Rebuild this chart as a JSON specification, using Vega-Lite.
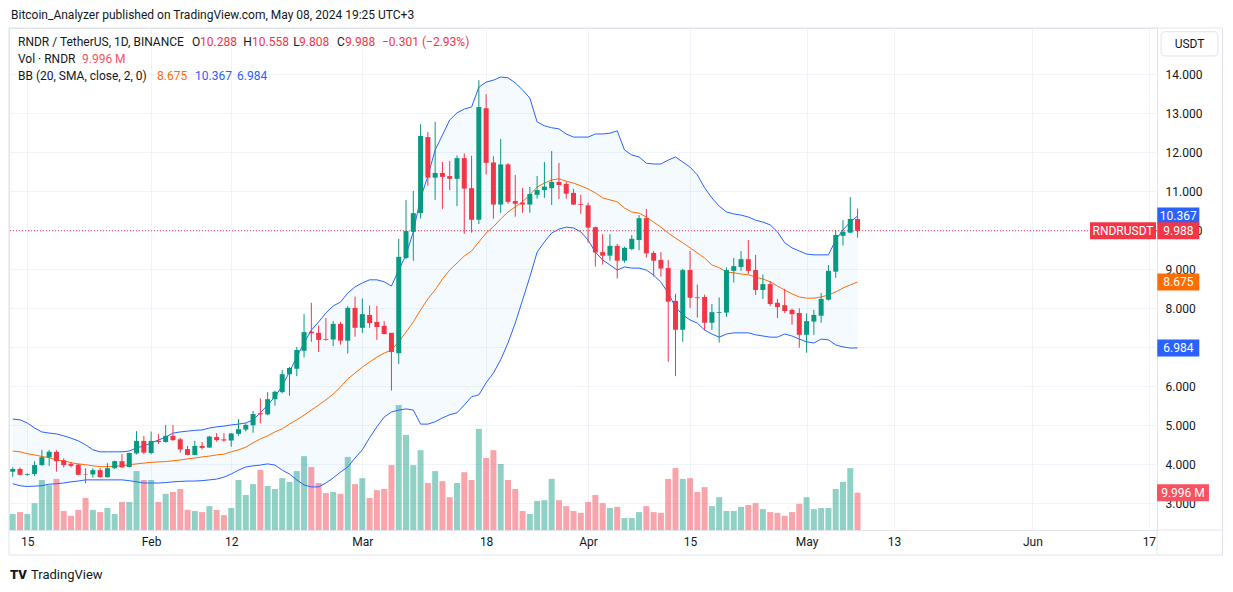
{
  "$schema": "https://vega.github.io/schema/vega-lite/v6.json",
  "autosize": "none",
  "width": 1148,
  "height": 502,
  "padding": {"left": 9, "top": 28, "right": 76, "bottom": 62},
  "background": "#ffffff",
  "config": {
    "view": {"stroke": "#e0e3eb", "strokeWidth": 1},
    "axis": {"labelFont": "Roboto", "labelFontSize": 12, "labelColor": "#131722", "gridColor": "#f0f3fa", "gridWidth": 1, "domain": false, "ticks": false},
    "text": {"font": "Roboto"}
  },
  "datasets": {
    "ohlc": [
      {"date":"2024-01-13","open":3.81,"high":3.92,"low":3.68,"close":3.88,"vol":4.3,"upper":5.16,"basis":4.34,"lower":3.50},
      {"date":"2024-01-14","open":3.88,"high":3.92,"low":3.72,"close":3.73,"vol":4.8,"upper":5.14,"basis":4.32,"lower":3.45},
      {"date":"2024-01-15","open":3.73,"high":3.77,"low":3.71,"close":3.75,"vol":4.3,"upper":5.06,"basis":4.27,"lower":3.43},
      {"date":"2024-01-16","open":3.75,"high":4.08,"low":3.70,"close":3.98,"vol":7.2,"upper":4.93,"basis":4.24,"lower":3.44},
      {"date":"2024-01-17","open":3.98,"high":4.37,"low":3.96,"close":4.18,"vol":13.4,"upper":4.83,"basis":4.20,"lower":3.45},
      {"date":"2024-01-18","open":4.18,"high":4.37,"low":3.96,"close":4.32,"vol":12.0,"upper":4.80,"basis":4.17,"lower":3.49},
      {"date":"2024-01-19","open":4.32,"high":4.36,"low":3.81,"close":4.08,"vol":13.7,"upper":4.78,"basis":4.11,"lower":3.50},
      {"date":"2024-01-20","open":4.10,"high":4.15,"low":3.92,"close":3.98,"vol":5.1,"upper":4.73,"basis":4.09,"lower":3.52},
      {"date":"2024-01-21","open":4.01,"high":4.06,"low":3.92,"close":3.96,"vol":3.8,"upper":4.67,"basis":4.04,"lower":3.55},
      {"date":"2024-01-22","open":3.99,"high":4.01,"low":3.72,"close":3.73,"vol":5.4,"upper":4.60,"basis":4.01,"lower":3.57},
      {"date":"2024-01-23","open":3.75,"high":3.90,"low":3.51,"close":3.74,"vol":8.6,"upper":4.50,"basis":3.99,"lower":3.60},
      {"date":"2024-01-24","open":3.74,"high":3.90,"low":3.66,"close":3.85,"vol":5.4,"upper":4.37,"basis":3.96,"lower":3.60},
      {"date":"2024-01-25","open":3.85,"high":3.90,"low":3.66,"close":3.67,"vol":4.8,"upper":4.32,"basis":3.94,"lower":3.60},
      {"date":"2024-01-26","open":3.67,"high":4.03,"low":3.66,"close":3.90,"vol":5.9,"upper":4.32,"basis":3.94,"lower":3.60},
      {"date":"2024-01-27","open":3.90,"high":4.09,"low":3.88,"close":4.08,"vol":4.3,"upper":4.32,"basis":3.95,"lower":3.60},
      {"date":"2024-01-28","open":4.08,"high":4.26,"low":3.91,"close":3.92,"vol":7.5,"upper":4.32,"basis":3.96,"lower":3.60},
      {"date":"2024-01-29","open":3.93,"high":4.30,"low":3.92,"close":4.29,"vol":7.5,"upper":4.34,"basis":3.99,"lower":3.58},
      {"date":"2024-01-30","open":4.28,"high":4.85,"low":4.25,"close":4.60,"vol":15.8,"upper":4.42,"basis":4.01,"lower":3.55},
      {"date":"2024-01-31","open":4.60,"high":4.73,"low":4.26,"close":4.30,"vol":13.4,"upper":4.47,"basis":4.03,"lower":3.52},
      {"date":"2024-02-01","open":4.29,"high":4.84,"low":4.26,"close":4.60,"vol":13.4,"upper":4.55,"basis":4.05,"lower":3.52},
      {"date":"2024-02-02","open":4.60,"high":4.78,"low":4.52,"close":4.57,"vol":7.5,"upper":4.62,"basis":4.06,"lower":3.52},
      {"date":"2024-02-03","open":4.57,"high":5.01,"low":4.56,"close":4.73,"vol":9.7,"upper":4.70,"basis":4.07,"lower":3.53},
      {"date":"2024-02-04","open":4.73,"high":5.01,"low":4.60,"close":4.62,"vol":10.2,"upper":4.80,"basis":4.09,"lower":3.55},
      {"date":"2024-02-05","open":4.64,"high":4.68,"low":4.30,"close":4.38,"vol":11.0,"upper":4.83,"basis":4.11,"lower":3.56},
      {"date":"2024-02-06","open":4.39,"high":4.47,"low":4.23,"close":4.24,"vol":5.4,"upper":4.85,"basis":4.14,"lower":3.57},
      {"date":"2024-02-07","open":4.24,"high":4.60,"low":4.23,"close":4.47,"vol":5.1,"upper":4.87,"basis":4.16,"lower":3.57},
      {"date":"2024-02-08","open":4.47,"high":4.57,"low":4.38,"close":4.42,"vol":4.8,"upper":4.88,"basis":4.19,"lower":3.58},
      {"date":"2024-02-09","open":4.43,"high":4.73,"low":4.42,"close":4.71,"vol":6.4,"upper":4.93,"basis":4.21,"lower":3.60},
      {"date":"2024-02-10","open":4.70,"high":4.80,"low":4.58,"close":4.62,"vol":5.4,"upper":4.96,"basis":4.24,"lower":3.62},
      {"date":"2024-02-11","open":4.64,"high":4.80,"low":4.58,"close":4.61,"vol":4.0,"upper":4.98,"basis":4.26,"lower":3.67},
      {"date":"2024-02-12","open":4.61,"high":4.80,"low":4.45,"close":4.79,"vol":5.9,"upper":5.01,"basis":4.32,"lower":3.75},
      {"date":"2024-02-13","open":4.78,"high":5.16,"low":4.73,"close":4.90,"vol":13.4,"upper":5.03,"basis":4.37,"lower":3.85},
      {"date":"2024-02-14","open":4.89,"high":5.05,"low":4.84,"close":5.01,"vol":9.4,"upper":5.06,"basis":4.44,"lower":3.93},
      {"date":"2024-02-15","open":5.00,"high":5.37,"low":4.81,"close":5.29,"vol":12.3,"upper":5.14,"basis":4.55,"lower":3.96},
      {"date":"2024-02-16","open":5.31,"high":5.69,"low":5.05,"close":5.28,"vol":16.1,"upper":5.32,"basis":4.65,"lower":3.98},
      {"date":"2024-02-17","open":5.28,"high":5.85,"low":5.26,"close":5.67,"vol":11.8,"upper":5.52,"basis":4.73,"lower":4.01},
      {"date":"2024-02-18","open":5.67,"high":5.89,"low":5.50,"close":5.86,"vol":11.0,"upper":5.73,"basis":4.83,"lower":3.98},
      {"date":"2024-02-19","open":5.85,"high":6.42,"low":5.82,"close":6.31,"vol":13.9,"upper":6.01,"basis":4.91,"lower":3.85},
      {"date":"2024-02-20","open":6.31,"high":6.50,"low":5.76,"close":6.47,"vol":12.9,"upper":6.37,"basis":5.03,"lower":3.75},
      {"date":"2024-02-21","open":6.45,"high":7.01,"low":6.26,"close":6.93,"vol":15.8,"upper":6.75,"basis":5.14,"lower":3.60},
      {"date":"2024-02-22","open":6.91,"high":7.85,"low":6.74,"close":7.39,"vol":19.8,"upper":7.11,"basis":5.26,"lower":3.47},
      {"date":"2024-02-23","open":7.40,"high":8.14,"low":7.14,"close":7.36,"vol":16.9,"upper":7.44,"basis":5.39,"lower":3.42},
      {"date":"2024-02-24","open":7.37,"high":7.56,"low":6.88,"close":7.19,"vol":12.6,"upper":7.65,"basis":5.52,"lower":3.42},
      {"date":"2024-02-25","open":7.21,"high":7.75,"low":7.17,"close":7.19,"vol":9.9,"upper":7.88,"basis":5.65,"lower":3.52},
      {"date":"2024-02-26","open":7.20,"high":7.67,"low":7.03,"close":7.60,"vol":10.2,"upper":8.06,"basis":5.80,"lower":3.65},
      {"date":"2024-02-27","open":7.60,"high":7.65,"low":7.07,"close":7.17,"vol":9.7,"upper":8.16,"basis":5.98,"lower":3.80},
      {"date":"2024-02-28","open":7.17,"high":8.06,"low":6.84,"close":8.01,"vol":19.6,"upper":8.39,"basis":6.19,"lower":3.93},
      {"date":"2024-02-29","open":8.01,"high":8.30,"low":7.27,"close":7.50,"vol":12.3,"upper":8.55,"basis":6.34,"lower":4.16},
      {"date":"2024-03-01","open":7.50,"high":8.25,"low":7.37,"close":7.85,"vol":13.9,"upper":8.65,"basis":6.49,"lower":4.37},
      {"date":"2024-03-02","open":7.83,"high":8.07,"low":7.50,"close":7.62,"vol":8.6,"upper":8.73,"basis":6.62,"lower":4.68},
      {"date":"2024-03-03","open":7.65,"high":8.06,"low":7.19,"close":7.52,"vol":10.7,"upper":8.73,"basis":6.75,"lower":4.96},
      {"date":"2024-03-04","open":7.55,"high":7.67,"low":7.33,"close":7.34,"vol":11.0,"upper":8.68,"basis":6.85,"lower":5.21},
      {"date":"2024-03-05","open":7.37,"high":7.37,"low":5.89,"close":6.88,"vol":17.4,"upper":8.57,"basis":6.93,"lower":5.34},
      {"date":"2024-03-06","open":6.85,"high":9.78,"low":6.57,"close":9.32,"vol":33.5,"upper":8.98,"basis":7.14,"lower":5.39},
      {"date":"2024-03-07","open":9.29,"high":10.78,"low":9.26,"close":9.98,"vol":25.5,"upper":9.37,"basis":7.39,"lower":5.42},
      {"date":"2024-03-08","open":9.96,"high":11.01,"low":9.22,"close":10.44,"vol":17.4,"upper":9.96,"basis":7.65,"lower":5.39},
      {"date":"2024-03-09","open":10.44,"high":12.72,"low":10.30,"close":12.42,"vol":21.4,"upper":10.83,"basis":7.96,"lower":5.03},
      {"date":"2024-03-10","open":12.39,"high":12.52,"low":11.14,"close":11.35,"vol":12.6,"upper":11.39,"basis":8.24,"lower":5.03},
      {"date":"2024-03-11","open":11.35,"high":12.78,"low":10.78,"close":11.47,"vol":15.8,"upper":12.06,"basis":8.47,"lower":5.09},
      {"date":"2024-03-12","open":11.47,"high":11.75,"low":10.55,"close":11.37,"vol":13.1,"upper":12.44,"basis":8.75,"lower":5.19},
      {"date":"2024-03-13","open":11.39,"high":11.78,"low":11.03,"close":11.32,"vol":8.8,"upper":12.83,"basis":8.98,"lower":5.27},
      {"date":"2024-03-14","open":11.32,"high":11.92,"low":10.62,"close":11.85,"vol":12.6,"upper":13.01,"basis":9.16,"lower":5.32},
      {"date":"2024-03-15","open":11.85,"high":11.97,"low":9.91,"close":11.07,"vol":15.5,"upper":13.11,"basis":9.34,"lower":5.52},
      {"date":"2024-03-16","open":11.08,"high":11.91,"low":9.94,"close":10.27,"vol":13.4,"upper":13.16,"basis":9.47,"lower":5.73},
      {"date":"2024-03-17","open":10.27,"high":13.85,"low":10.16,"close":13.16,"vol":27.1,"upper":13.67,"basis":9.70,"lower":5.78},
      {"date":"2024-03-18","open":13.13,"high":13.49,"low":11.43,"close":11.73,"vol":19.3,"upper":13.80,"basis":9.93,"lower":6.09},
      {"date":"2024-03-19","open":11.74,"high":11.90,"low":10.30,"close":10.66,"vol":21.4,"upper":13.85,"basis":10.09,"lower":6.34},
      {"date":"2024-03-20","open":10.66,"high":12.34,"low":10.45,"close":11.69,"vol":17.7,"upper":13.93,"basis":10.29,"lower":6.68},
      {"date":"2024-03-21","open":11.69,"high":11.72,"low":10.68,"close":10.73,"vol":13.4,"upper":13.91,"basis":10.47,"lower":7.11},
      {"date":"2024-03-22","open":10.75,"high":11.42,"low":10.35,"close":10.68,"vol":11.0,"upper":13.78,"basis":10.60,"lower":7.62},
      {"date":"2024-03-23","open":10.71,"high":11.08,"low":10.45,"close":10.66,"vol":5.1,"upper":13.60,"basis":10.73,"lower":8.21},
      {"date":"2024-03-24","open":10.66,"high":11.11,"low":10.45,"close":10.93,"vol":4.3,"upper":13.39,"basis":10.91,"lower":8.80},
      {"date":"2024-03-25","open":10.91,"high":11.39,"low":10.81,"close":11.03,"vol":7.8,"upper":12.78,"basis":11.11,"lower":9.44},
      {"date":"2024-03-26","open":11.03,"high":11.75,"low":10.83,"close":11.12,"vol":8.0,"upper":12.68,"basis":11.21,"lower":9.70},
      {"date":"2024-03-27","open":11.08,"high":12.03,"low":10.65,"close":11.24,"vol":13.7,"upper":12.63,"basis":11.29,"lower":9.93},
      {"date":"2024-03-28","open":11.24,"high":11.73,"low":10.80,"close":11.16,"vol":8.0,"upper":12.60,"basis":11.32,"lower":10.03},
      {"date":"2024-03-29","open":11.19,"high":11.24,"low":10.81,"close":10.94,"vol":6.4,"upper":12.47,"basis":11.26,"lower":10.08},
      {"date":"2024-03-30","open":10.96,"high":11.06,"low":10.65,"close":10.66,"vol":5.1,"upper":12.39,"basis":11.21,"lower":10.06},
      {"date":"2024-03-31","open":10.67,"high":10.91,"low":10.42,"close":10.65,"vol":4.6,"upper":12.39,"basis":11.14,"lower":9.96},
      {"date":"2024-04-01","open":10.64,"high":10.71,"low":9.68,"close":10.07,"vol":7.5,"upper":12.39,"basis":11.06,"lower":9.75},
      {"date":"2024-04-02","open":10.08,"high":10.09,"low":9.07,"close":9.43,"vol":9.4,"upper":12.47,"basis":10.96,"lower":9.44},
      {"date":"2024-04-03","open":9.44,"high":9.90,"low":9.12,"close":9.35,"vol":7.2,"upper":12.47,"basis":10.83,"lower":9.24},
      {"date":"2024-04-04","open":9.35,"high":9.90,"low":9.22,"close":9.60,"vol":5.9,"upper":12.49,"basis":10.78,"lower":9.11},
      {"date":"2024-04-05","open":9.60,"high":9.65,"low":8.76,"close":9.22,"vol":6.2,"upper":12.55,"basis":10.73,"lower":8.98},
      {"date":"2024-04-06","open":9.22,"high":9.58,"low":9.17,"close":9.55,"vol":3.2,"upper":12.06,"basis":10.57,"lower":9.06},
      {"date":"2024-04-07","open":9.52,"high":9.88,"low":9.49,"close":9.78,"vol":3.2,"upper":11.93,"basis":10.47,"lower":9.03},
      {"date":"2024-04-08","open":9.75,"high":10.39,"low":9.49,"close":10.31,"vol":4.8,"upper":11.88,"basis":10.44,"lower":9.03},
      {"date":"2024-04-09","open":10.31,"high":10.55,"low":9.30,"close":9.41,"vol":6.4,"upper":11.72,"basis":10.34,"lower":8.98},
      {"date":"2024-04-10","open":9.42,"high":9.47,"low":8.81,"close":9.22,"vol":4.8,"upper":11.70,"basis":10.21,"lower":8.85},
      {"date":"2024-04-11","open":9.24,"high":9.44,"low":8.81,"close":9.02,"vol":4.6,"upper":11.70,"basis":10.08,"lower":8.67},
      {"date":"2024-04-12","open":9.03,"high":9.24,"low":6.63,"close":8.17,"vol":13.7,"upper":11.80,"basis":9.93,"lower":8.39},
      {"date":"2024-04-13","open":8.19,"high":8.37,"low":6.26,"close":7.45,"vol":16.6,"upper":11.88,"basis":9.80,"lower":8.03},
      {"date":"2024-04-14","open":7.45,"high":9.01,"low":7.14,"close":8.98,"vol":13.7,"upper":11.75,"basis":9.68,"lower":7.83},
      {"date":"2024-04-15","open":8.98,"high":9.47,"low":8.01,"close":8.27,"vol":13.9,"upper":11.62,"basis":9.55,"lower":7.70},
      {"date":"2024-04-16","open":8.28,"high":8.61,"low":7.76,"close":8.26,"vol":10.2,"upper":11.42,"basis":9.42,"lower":7.62},
      {"date":"2024-04-17","open":8.29,"high":8.35,"low":7.44,"close":7.63,"vol":11.5,"upper":11.09,"basis":9.29,"lower":7.44},
      {"date":"2024-04-18","open":7.63,"high":8.11,"low":7.44,"close":7.90,"vol":6.4,"upper":10.83,"basis":9.11,"lower":7.34},
      {"date":"2024-04-19","open":7.88,"high":8.28,"low":7.12,"close":7.90,"vol":8.8,"upper":10.62,"basis":9.04,"lower":7.26},
      {"date":"2024-04-20","open":7.89,"high":9.05,"low":7.78,"close":8.98,"vol":5.1,"upper":10.47,"basis":8.93,"lower":7.34},
      {"date":"2024-04-21","open":8.96,"high":9.29,"low":8.66,"close":9.08,"vol":5.1,"upper":10.42,"basis":8.91,"lower":7.37},
      {"date":"2024-04-22","open":9.06,"high":9.47,"low":8.96,"close":9.26,"vol":6.2,"upper":10.39,"basis":8.88,"lower":7.37},
      {"date":"2024-04-23","open":9.26,"high":9.75,"low":8.88,"close":8.96,"vol":6.7,"upper":10.34,"basis":8.86,"lower":7.37},
      {"date":"2024-04-24","open":8.98,"high":9.37,"low":8.34,"close":8.47,"vol":7.2,"upper":10.26,"basis":8.80,"lower":7.32},
      {"date":"2024-04-25","open":8.47,"high":8.87,"low":8.24,"close":8.62,"vol":5.6,"upper":10.21,"basis":8.75,"lower":7.29},
      {"date":"2024-04-26","open":8.62,"high":8.70,"low":8.06,"close":8.11,"vol":4.8,"upper":10.14,"basis":8.68,"lower":7.26},
      {"date":"2024-04-27","open":8.14,"high":8.24,"low":7.75,"close":8.03,"vol":4.6,"upper":9.96,"basis":8.57,"lower":7.26},
      {"date":"2024-04-28","open":8.08,"high":8.50,"low":7.88,"close":7.93,"vol":3.8,"upper":9.68,"basis":8.47,"lower":7.34},
      {"date":"2024-04-29","open":7.96,"high":7.99,"low":7.58,"close":7.85,"vol":4.8,"upper":9.55,"basis":8.37,"lower":7.29},
      {"date":"2024-04-30","open":7.88,"high":8.00,"low":6.99,"close":7.32,"vol":7.0,"upper":9.47,"basis":8.29,"lower":7.21},
      {"date":"2024-05-01","open":7.32,"high":7.87,"low":6.86,"close":7.67,"vol":8.8,"upper":9.39,"basis":8.26,"lower":7.14},
      {"date":"2024-05-02","open":7.66,"high":7.96,"low":7.32,"close":7.83,"vol":5.6,"upper":9.37,"basis":8.26,"lower":7.11},
      {"date":"2024-05-03","open":7.81,"high":8.39,"low":7.63,"close":8.24,"vol":5.9,"upper":9.37,"basis":8.29,"lower":7.21},
      {"date":"2024-05-04","open":8.22,"high":9.11,"low":8.20,"close":8.96,"vol":5.9,"upper":9.37,"basis":8.34,"lower":7.19},
      {"date":"2024-05-05","open":8.94,"high":10.01,"low":8.78,"close":9.88,"vol":11.0,"upper":9.75,"basis":8.42,"lower":7.06},
      {"date":"2024-05-06","open":9.86,"high":10.26,"low":9.61,"close":9.96,"vol":12.9,"upper":10.01,"basis":8.52,"lower":7.01},
      {"date":"2024-05-07","open":9.94,"high":10.85,"low":9.93,"close":10.29,"vol":16.6,"upper":10.21,"basis":8.60,"lower":6.98},
      {"date":"2024-05-08","open":10.288,"high":10.558,"low":9.808,"close":9.988,"vol":9.996,"upper":10.367,"basis":8.675,"lower":6.984}
    ]
  },
  "layer": [
    {
      "layer": [
        {
          "data": {"name": "ohlc"},
          "mark": {"type": "bar", "size": 6, "opacity": 0.45},
          "encoding": {
            "x": {"field": "date", "type": "temporal", "scale": {"type": "utc", "domain": [1705059676800, 1718678736000], "nice": false, "padding": 0}},
            "y": {"field": "vol", "type": "quantitative", "scale": {"domain": [0, 134.6], "nice": false, "zero": false}, "axis": null},
            "color": {"condition": {"test": "datum.close >= datum.open", "value": "#089981"}, "value": "#F23645"}
          }
        },
        {
          "data": {"values": [{}]},
          "mark": {"type": "point", "shape": "M-1,-0.327L1,-0.327L1,0.327L-1,0.327Z", "size": 2704, "filled": true, "opacity": 1, "color": "#F7525F", "strokeWidth": 0},
          "encoding": {
            "x": {"datum": 1718986752000, "type": "temporal", "scale": {"type": "utc", "domain": [1705059676800, 1718678736000], "nice": false, "padding": 0}},
            "y": {"datum": 9.996, "type": "quantitative", "scale": {"domain": [0, 134.6], "nice": false, "zero": false}, "axis": null}
          }
        },
        {
          "data": {"values": [{}]},
          "mark": {"type": "text", "text": "9.996 M", "align": "center", "baseline": "middle", "fontSize": 12, "color": "#ffffff"},
          "encoding": {
            "x": {"datum": 1718986752000, "type": "temporal", "scale": {"type": "utc", "domain": [1705059676800, 1718678736000], "nice": false, "padding": 0}},
            "y": {"datum": 9.996, "type": "quantitative", "scale": {"domain": [0, 134.6], "nice": false, "zero": false}, "axis": null}
          }
        }
      ]
    },
    {
      "layer": [
        {
          "data": {"name": "ohlc"},
          "mark": {"type": "bar", "size": 5},
          "encoding": {
            "x": {"field": "date", "type": "temporal", "scale": {"type": "utc", "domain": [1705059676800, 1718678736000], "nice": false, "padding": 0},
              "axis": {"values": [1705276800000, 1706745600000, 1707696000000, 1709251200000, 1710720000000, 1711929600000, 1713139200000, 1714521600000, 1715558400000, 1717200000000, 1718582400000],
                "labelExpr": "utcdate(datum.value) == 1 ? utcFormat(datum.value, '%b') : utcFormat(datum.value, '%-d')",
                "grid": true, "title": null, "labelPadding": 6, "labelFlush": false, "labelOverlap": false}},
            "y": {"field": "open", "type": "quantitative", "scale": {"domain": [2.315, 15.187], "nice": false, "zero": false},
              "axis": {"orient": "right", "values": [3, 4, 5, 6, 7, 8, 9, 10, 11, 12, 13, 14], "format": ".3f", "grid": true, "title": null, "labelPadding": 8}},
            "y2": {"field": "close"},
            "opacity": {"value": 0}
          }
        },
        {
          "data": {"name": "ohlc"},
          "mark": {"type": "area", "color": "#2196F3", "opacity": 0.05},
          "encoding": {
            "x": {"field": "date", "type": "temporal", "scale": {"type": "utc", "domain": [1705059676800, 1718678736000], "nice": false, "padding": 0}},
            "y": {"field": "upper", "type": "quantitative", "scale": {"domain": [2.315, 15.187], "nice": false, "zero": false}},
            "y2": {"field": "lower"}
          }
        },
        {
          "data": {"name": "ohlc"},
          "mark": {"type": "line", "color": "#2962FF", "strokeWidth": 1},
          "encoding": {
            "x": {"field": "date", "type": "temporal", "scale": {"type": "utc", "domain": [1705059676800, 1718678736000], "nice": false, "padding": 0}},
            "y": {"field": "upper", "type": "quantitative", "scale": {"domain": [2.315, 15.187], "nice": false, "zero": false}}
          }
        },
        {
          "data": {"name": "ohlc"},
          "mark": {"type": "line", "color": "#2962FF", "strokeWidth": 1},
          "encoding": {
            "x": {"field": "date", "type": "temporal", "scale": {"type": "utc", "domain": [1705059676800, 1718678736000], "nice": false, "padding": 0}},
            "y": {"field": "lower", "type": "quantitative", "scale": {"domain": [2.315, 15.187], "nice": false, "zero": false}}
          }
        },
        {
          "data": {"name": "ohlc"},
          "mark": {"type": "line", "color": "#FF6D00", "strokeWidth": 1},
          "encoding": {
            "x": {"field": "date", "type": "temporal", "scale": {"type": "utc", "domain": [1705059676800, 1718678736000], "nice": false, "padding": 0}},
            "y": {"field": "basis", "type": "quantitative", "scale": {"domain": [2.315, 15.187], "nice": false, "zero": false}}
          }
        },
        {
          "data": {"values": [{}]},
          "mark": {"type": "rule", "color": "#F23645", "strokeWidth": 1, "strokeDash": [1, 2]},
          "encoding": {
            "y": {"datum": 9.988, "type": "quantitative", "scale": {"domain": [2.315, 15.187], "nice": false, "zero": false}}
          }
        },
        {
          "data": {"name": "ohlc"},
          "mark": {"type": "rule", "strokeWidth": 1},
          "encoding": {
            "x": {"field": "date", "type": "temporal", "scale": {"type": "utc", "domain": [1705059676800, 1718678736000], "nice": false, "padding": 0}},
            "y": {"field": "low", "type": "quantitative", "scale": {"domain": [2.315, 15.187], "nice": false, "zero": false}},
            "y2": {"field": "high"},
            "color": {"condition": {"test": "datum.close >= datum.open", "value": "#089981"}, "value": "#F23645"}
          }
        },
        {
          "data": {"name": "ohlc"},
          "mark": {"type": "bar", "size": 5},
          "encoding": {
            "x": {"field": "date", "type": "temporal", "scale": {"type": "utc", "domain": [1705059676800, 1718678736000], "nice": false, "padding": 0}},
            "y": {"field": "open", "type": "quantitative", "scale": {"domain": [2.315, 15.187], "nice": false, "zero": false}},
            "y2": {"field": "close"},
            "color": {"condition": {"test": "datum.close >= datum.open", "value": "#089981"}, "value": "#F23645"}
          }
        },
        {
          "data": {"values": [{}]},
          "mark": {"type": "rect", "fillOpacity": 0, "stroke": "#e0e3eb", "strokeWidth": 1},
          "encoding": {
            "x": {"datum": 1705059676800, "type": "temporal", "scale": {"type": "utc", "domain": [1705059676800, 1718678736000], "nice": false, "padding": 0}},
            "x2": {"datum": 1719455904000},
            "y": {"datum": 15.187, "type": "quantitative", "scale": {"domain": [2.315, 15.187], "nice": false, "zero": false}},
            "y2": {"datum": 1.674}
          }
        },
        {
          "data": {"values": [{}]},
          "mark": {"type": "rule", "color": "#e0e3eb", "strokeWidth": 1},
          "encoding": {
            "x": {"datum": 1718678736000, "type": "temporal", "scale": {"type": "utc", "domain": [1705059676800, 1718678736000], "nice": false, "padding": 0}},
            "y": {"datum": 2.315, "type": "quantitative", "scale": {"domain": [2.315, 15.187], "nice": false, "zero": false}},
            "y2": {"datum": 1.674}
          }
        },
        {
          "data": {"values": [{}]},
          "mark": {"type": "rule", "color": "#e0e3eb", "strokeWidth": 1},
          "encoding": {
            "x": {"datum": 1718678736000, "type": "temporal", "scale": {"type": "utc", "domain": [1705059676800, 1718678736000], "nice": false, "padding": 0}},
            "x2": {"datum": 1719455904000},
            "y": {"datum": 2.315, "type": "quantitative", "scale": {"domain": [2.315, 15.187], "nice": false, "zero": false}}
          }
        },
        {
          "data": {"values": [{}]},
          "mark": {"type": "rect", "fillOpacity": 0, "stroke": "#e0e3eb", "strokeWidth": 1, "cornerRadius": 4},
          "encoding": {
            "x": {"datum": 1718726688000, "type": "temporal", "scale": {"type": "utc", "domain": [1705059676800, 1718678736000], "nice": false, "padding": 0}},
            "x2": {"datum": 1719402336000},
            "y": {"datum": 15.092, "type": "quantitative", "scale": {"domain": [2.315, 15.187], "nice": false, "zero": false}},
            "y2": {"datum": 14.469}
          }
        },
        {
          "data": {"values": [{}]},
          "mark": {"type": "text", "text": "USDT", "align": "center", "baseline": "middle", "fontSize": 12, "color": "#131722"},
          "encoding": {
            "x": {"datum": 1719064512000, "type": "temporal", "scale": {"type": "utc", "domain": [1705059676800, 1718678736000], "nice": false, "padding": 0}},
            "y": {"datum": 14.78, "type": "quantitative", "scale": {"domain": [2.315, 15.187], "nice": false, "zero": false}}
          }
        },
        {
          "data": {"values": [{}]},
          "mark": {"type": "point", "shape": "M-1,-0.405L1,-0.405L1,0.405L-1,0.405Z", "size": 1764, "filled": true, "opacity": 1, "color": "#2962FF", "strokeWidth": 0},
          "encoding": {
            "x": {"datum": 1718931456000, "type": "temporal", "scale": {"type": "utc", "domain": [1705059676800, 1718678736000], "nice": false, "padding": 0}},
            "y": {"datum": 10.367, "type": "quantitative", "scale": {"domain": [2.315, 15.187], "nice": false, "zero": false}}
          }
        },
        {
          "data": {"values": [{}]},
          "mark": {"type": "text", "text": "10.367", "align": "center", "baseline": "middle", "fontSize": 12, "color": "#ffffff"},
          "encoding": {
            "x": {"datum": 1718931456000, "type": "temporal", "scale": {"type": "utc", "domain": [1705059676800, 1718678736000], "nice": false, "padding": 0}},
            "y": {"datum": 10.367, "type": "quantitative", "scale": {"domain": [2.315, 15.187], "nice": false, "zero": false}}
          }
        },
        {
          "data": {"values": [{}]},
          "mark": {"type": "point", "shape": "M-1,-0.405L1,-0.405L1,0.405L-1,0.405Z", "size": 1764, "filled": true, "opacity": 1, "color": "#F23645", "strokeWidth": 0},
          "encoding": {
            "x": {"datum": 1718931456000, "type": "temporal", "scale": {"type": "utc", "domain": [1705059676800, 1718678736000], "nice": false, "padding": 0}},
            "y": {"datum": 9.988, "type": "quantitative", "scale": {"domain": [2.315, 15.187], "nice": false, "zero": false}}
          }
        },
        {
          "data": {"values": [{}]},
          "mark": {"type": "text", "text": "9.988", "align": "center", "baseline": "middle", "fontSize": 12, "color": "#ffffff"},
          "encoding": {
            "x": {"datum": 1718931456000, "type": "temporal", "scale": {"type": "utc", "domain": [1705059676800, 1718678736000], "nice": false, "padding": 0}},
            "y": {"datum": 9.988, "type": "quantitative", "scale": {"domain": [2.315, 15.187], "nice": false, "zero": false}}
          }
        },
        {
          "data": {"values": [{}]},
          "mark": {"type": "point", "shape": "M-1,-0.258L1,-0.258L1,0.258L-1,0.258Z", "size": 4356, "filled": true, "opacity": 1, "color": "#F23645", "strokeWidth": 0},
          "encoding": {
            "x": {"datum": 1718275680000, "type": "temporal", "scale": {"type": "utc", "domain": [1705059676800, 1718678736000], "nice": false, "padding": 0}},
            "y": {"datum": 9.988, "type": "quantitative", "scale": {"domain": [2.315, 15.187], "nice": false, "zero": false}}
          }
        },
        {
          "data": {"values": [{}]},
          "mark": {"type": "text", "text": "RNDRUSDT", "align": "center", "baseline": "middle", "fontSize": 12, "color": "#ffffff"},
          "encoding": {
            "x": {"datum": 1718275680000, "type": "temporal", "scale": {"type": "utc", "domain": [1705059676800, 1718678736000], "nice": false, "padding": 0}},
            "y": {"datum": 9.988, "type": "quantitative", "scale": {"domain": [2.315, 15.187], "nice": false, "zero": false}}
          }
        },
        {
          "data": {"values": [{}]},
          "mark": {"type": "point", "shape": "M-1,-0.405L1,-0.405L1,0.405L-1,0.405Z", "size": 1764, "filled": true, "opacity": 1, "color": "#FF6D00", "strokeWidth": 0},
          "encoding": {
            "x": {"datum": 1718931456000, "type": "temporal", "scale": {"type": "utc", "domain": [1705059676800, 1718678736000], "nice": false, "padding": 0}},
            "y": {"datum": 8.675, "type": "quantitative", "scale": {"domain": [2.315, 15.187], "nice": false, "zero": false}}
          }
        },
        {
          "data": {"values": [{}]},
          "mark": {"type": "text", "text": "8.675", "align": "center", "baseline": "middle", "fontSize": 12, "color": "#ffffff"},
          "encoding": {
            "x": {"datum": 1718931456000, "type": "temporal", "scale": {"type": "utc", "domain": [1705059676800, 1718678736000], "nice": false, "padding": 0}},
            "y": {"datum": 8.675, "type": "quantitative", "scale": {"domain": [2.315, 15.187], "nice": false, "zero": false}}
          }
        },
        {
          "data": {"values": [{}]},
          "mark": {"type": "point", "shape": "M-1,-0.405L1,-0.405L1,0.405L-1,0.405Z", "size": 1764, "filled": true, "opacity": 1, "color": "#2962FF", "strokeWidth": 0},
          "encoding": {
            "x": {"datum": 1718931456000, "type": "temporal", "scale": {"type": "utc", "domain": [1705059676800, 1718678736000], "nice": false, "padding": 0}},
            "y": {"datum": 6.984, "type": "quantitative", "scale": {"domain": [2.315, 15.187], "nice": false, "zero": false}}
          }
        },
        {
          "data": {"values": [{}]},
          "mark": {"type": "text", "text": "6.984", "align": "center", "baseline": "middle", "fontSize": 12, "color": "#ffffff"},
          "encoding": {
            "x": {"datum": 1718931456000, "type": "temporal", "scale": {"type": "utc", "domain": [1705059676800, 1718678736000], "nice": false, "padding": 0}},
            "y": {"datum": 6.984, "type": "quantitative", "scale": {"domain": [2.315, 15.187], "nice": false, "zero": false}}
          }
        },
        {
          "data": {"values": [{}]},
          "mark": {"type": "text", "text": "Bitcoin_Analyzer published on TradingView.com, May 08, 2024 19:25 UTC+3", "align": "left", "baseline": "middle", "fontSize": 12, "color": "#131722"},
          "encoding": {
            "x": {"datum": 1705083436800, "type": "temporal", "scale": {"type": "utc", "domain": [1705059676800, 1718678736000], "nice": false, "padding": 0}},
            "y": {"datum": 15.52, "type": "quantitative", "scale": {"domain": [2.315, 15.187], "nice": false, "zero": false}}
          }
        },
        {
          "data": {"values": [{}]},
          "mark": {"type": "text", "text": "RNDR / TetherUS, 1D, BINANCE", "align": "left", "baseline": "middle", "fontSize": 12, "color": "#131722"},
          "encoding": {
            "x": {"datum": 1705166467200, "type": "temporal", "scale": {"type": "utc", "domain": [1705059676800, 1718678736000], "nice": false, "padding": 0}},
            "y": {"datum": 14.828, "type": "quantitative", "scale": {"domain": [2.315, 15.187], "nice": false, "zero": false}}
          }
        },
        {
          "data": {"values": [{}]},
          "mark": {"type": "text", "text": "O", "align": "left", "baseline": "middle", "fontSize": 12, "color": "#131722"},
          "encoding": {
            "x": {"datum": 1707230649600, "type": "temporal", "scale": {"type": "utc", "domain": [1705059676800, 1718678736000], "nice": false, "padding": 0}},
            "y": {"datum": 14.828, "type": "quantitative", "scale": {"domain": [2.315, 15.187], "nice": false, "zero": false}}
          }
        },
        {
          "data": {"values": [{}]},
          "mark": {"type": "text", "text": "10.288", "align": "left", "baseline": "middle", "fontSize": 12, "color": "#F23645"},
          "encoding": {
            "x": {"datum": 1707325603200, "type": "temporal", "scale": {"type": "utc", "domain": [1705059676800, 1718678736000], "nice": false, "padding": 0}},
            "y": {"datum": 14.828, "type": "quantitative", "scale": {"domain": [2.315, 15.187], "nice": false, "zero": false}}
          }
        },
        {
          "data": {"values": [{}]},
          "mark": {"type": "text", "text": "H", "align": "left", "baseline": "middle", "fontSize": 12, "color": "#131722"},
          "encoding": {
            "x": {"datum": 1707839251200, "type": "temporal", "scale": {"type": "utc", "domain": [1705059676800, 1718678736000], "nice": false, "padding": 0}},
            "y": {"datum": 14.828, "type": "quantitative", "scale": {"domain": [2.315, 15.187], "nice": false, "zero": false}}
          }
        },
        {
          "data": {"values": [{}]},
          "mark": {"type": "text", "text": "10.558", "align": "left", "baseline": "middle", "fontSize": 12, "color": "#F23645"},
          "encoding": {
            "x": {"datum": 1707942499200, "type": "temporal", "scale": {"type": "utc", "domain": [1705059676800, 1718678736000], "nice": false, "padding": 0}},
            "y": {"datum": 14.828, "type": "quantitative", "scale": {"domain": [2.315, 15.187], "nice": false, "zero": false}}
          }
        },
        {
          "data": {"values": [{}]},
          "mark": {"type": "text", "text": "L", "align": "left", "baseline": "middle", "fontSize": 12, "color": "#131722"},
          "encoding": {
            "x": {"datum": 1708432128000, "type": "temporal", "scale": {"type": "utc", "domain": [1705059676800, 1718678736000], "nice": false, "padding": 0}},
            "y": {"datum": 14.828, "type": "quantitative", "scale": {"domain": [2.315, 15.187], "nice": false, "zero": false}}
          }
        },
        {
          "data": {"values": [{}]},
          "mark": {"type": "text", "text": "9.808", "align": "left", "baseline": "middle", "fontSize": 12, "color": "#F23645"},
          "encoding": {
            "x": {"datum": 1708500038400, "type": "temporal", "scale": {"type": "utc", "domain": [1705059676800, 1718678736000], "nice": false, "padding": 0}},
            "y": {"datum": 14.828, "type": "quantitative", "scale": {"domain": [2.315, 15.187], "nice": false, "zero": false}}
          }
        },
        {
          "data": {"values": [{}]},
          "mark": {"type": "text", "text": "C", "align": "left", "baseline": "middle", "fontSize": 12, "color": "#131722"},
          "encoding": {
            "x": {"datum": 1708950873600, "type": "temporal", "scale": {"type": "utc", "domain": [1705059676800, 1718678736000], "nice": false, "padding": 0}},
            "y": {"datum": 14.828, "type": "quantitative", "scale": {"domain": [2.315, 15.187], "nice": false, "zero": false}}
          }
        },
        {
          "data": {"values": [{}]},
          "mark": {"type": "text", "text": "9.988", "align": "left", "baseline": "middle", "fontSize": 12, "color": "#F23645"},
          "encoding": {
            "x": {"datum": 1709045740800, "type": "temporal", "scale": {"type": "utc", "domain": [1705059676800, 1718678736000], "nice": false, "padding": 0}},
            "y": {"datum": 14.828, "type": "quantitative", "scale": {"domain": [2.315, 15.187], "nice": false, "zero": false}}
          }
        },
        {
          "data": {"values": [{}]},
          "mark": {"type": "text", "text": "−0.301 (−2.93%)", "align": "left", "baseline": "middle", "fontSize": 12, "color": "#F23645"},
          "encoding": {
            "x": {"datum": 1709484739200, "type": "temporal", "scale": {"type": "utc", "domain": [1705059676800, 1718678736000], "nice": false, "padding": 0}},
            "y": {"datum": 14.828, "type": "quantitative", "scale": {"domain": [2.315, 15.187], "nice": false, "zero": false}}
          }
        },
        {
          "data": {"values": [{}]},
          "mark": {"type": "text", "text": "Vol · RNDR", "align": "left", "baseline": "middle", "fontSize": 12, "color": "#131722"},
          "encoding": {
            "x": {"datum": 1705166467200, "type": "temporal", "scale": {"type": "utc", "domain": [1705059676800, 1718678736000], "nice": false, "padding": 0}},
            "y": {"datum": 14.392, "type": "quantitative", "scale": {"domain": [2.315, 15.187], "nice": false, "zero": false}}
          }
        },
        {
          "data": {"values": [{}]},
          "mark": {"type": "text", "text": "9.996 M", "align": "left", "baseline": "middle", "fontSize": 12, "color": "#F7525F"},
          "encoding": {
            "x": {"datum": 1705925750400, "type": "temporal", "scale": {"type": "utc", "domain": [1705059676800, 1718678736000], "nice": false, "padding": 0}},
            "y": {"datum": 14.392, "type": "quantitative", "scale": {"domain": [2.315, 15.187], "nice": false, "zero": false}}
          }
        },
        {
          "data": {"values": [{}]},
          "mark": {"type": "text", "text": "BB (20, SMA, close, 2, 0)", "align": "left", "baseline": "middle", "fontSize": 12, "color": "#131722"},
          "encoding": {
            "x": {"datum": 1705166467200, "type": "temporal", "scale": {"type": "utc", "domain": [1705059676800, 1718678736000], "nice": false, "padding": 0}},
            "y": {"datum": 13.956, "type": "quantitative", "scale": {"domain": [2.315, 15.187], "nice": false, "zero": false}}
          }
        },
        {
          "data": {"values": [{}]},
          "mark": {"type": "text", "text": "8.675", "align": "left", "baseline": "middle", "fontSize": 12, "color": "#FF6D00"},
          "encoding": {
            "x": {"datum": 1706815497600, "type": "temporal", "scale": {"type": "utc", "domain": [1705059676800, 1718678736000], "nice": false, "padding": 0}},
            "y": {"datum": 13.956, "type": "quantitative", "scale": {"domain": [2.315, 15.187], "nice": false, "zero": false}}
          }
        },
        {
          "data": {"values": [{}]},
          "mark": {"type": "text", "text": "10.367", "align": "left", "baseline": "middle", "fontSize": 12, "color": "#2962FF"},
          "encoding": {
            "x": {"datum": 1707266246400, "type": "temporal", "scale": {"type": "utc", "domain": [1705059676800, 1718678736000], "nice": false, "padding": 0}},
            "y": {"datum": 13.956, "type": "quantitative", "scale": {"domain": [2.315, 15.187], "nice": false, "zero": false}}
          }
        },
        {
          "data": {"values": [{}]},
          "mark": {"type": "text", "text": "6.984", "align": "left", "baseline": "middle", "fontSize": 12, "color": "#2962FF"},
          "encoding": {
            "x": {"datum": 1707764515200, "type": "temporal", "scale": {"type": "utc", "domain": [1705059676800, 1718678736000], "nice": false, "padding": 0}},
            "y": {"datum": 13.956, "type": "quantitative", "scale": {"domain": [2.315, 15.187], "nice": false, "zero": false}}
          }
        },
        {
          "data": {"values": [{}]},
          "mark": {"type": "text", "text": "TV", "align": "left", "baseline": "middle", "fontSize": 13, "fontWeight": 900, "color": "#131722"},
          "encoding": {
            "x": {"datum": 1705071600000, "type": "temporal", "scale": {"type": "utc", "domain": [1705059676800, 1718678736000], "nice": false, "padding": 0}},
            "y": {"datum": 1.162, "type": "quantitative", "scale": {"domain": [2.315, 15.187], "nice": false, "zero": false}}
          }
        },
        {
          "data": {"values": [{}]},
          "mark": {"type": "text", "text": "TradingView", "align": "left", "baseline": "middle", "fontSize": 13, "color": "#131722"},
          "encoding": {
            "x": {"datum": 1705320691200, "type": "temporal", "scale": {"type": "utc", "domain": [1705059676800, 1718678736000], "nice": false, "padding": 0}},
            "y": {"datum": 1.162, "type": "quantitative", "scale": {"domain": [2.315, 15.187], "nice": false, "zero": false}}
          }
        }
      ]
    }
  ],
  "resolve": {"scale": {"y": "independent"}}
}
